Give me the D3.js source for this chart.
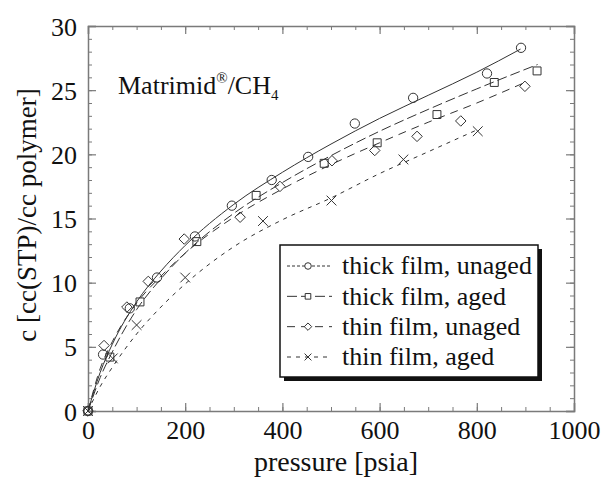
<!DOCTYPE html>
<html>
<head>
<meta charset="utf-8">
<script src="https://cdn.jsdelivr.net/npm/d3@7"></script>
<style>
  body { margin: 0; background: #fff; }
  svg text { font-family: "Liberation Serif", "Times New Roman", Times, "DejaVu Serif", serif; fill: #111; }
</style>
</head>
<body>
<div id="chart"></div>
<script>
// measured points, pressure [psia] / c [cc(STP)/cc polymer]
var thickUnagedP = [0, 31, 86, 142, 220, 296, 378, 453, 549, 669, 821, 891];
var thickUnagedC = [0, 4.4, 8.0, 10.4, 13.6, 16.0, 18.0, 19.8, 22.4, 24.4, 26.3, 28.3];
var thickAgedP = [0, 45, 107, 224, 346, 486, 595, 718, 836, 924];
var thickAgedC = [0, 4.2, 8.5, 13.2, 16.8, 19.3, 20.9, 23.1, 25.6, 26.5];
var thinUnagedP = [0, 33, 80, 124, 198, 313, 395, 502, 590, 677, 767, 899];
var thinUnagedC = [0, 5.1, 8.1, 10.1, 13.4, 15.1, 17.5, 19.5, 20.3, 21.4, 22.6, 25.3];
var thinAgedP = [0, 51, 100, 200, 360, 501, 649, 802];
var thinAgedC = [0, 4.1, 6.7, 10.4, 14.8, 16.4, 19.6, 21.8];

// fitted curves
var fitThickUnagedP = [0, 25, 50, 100, 150, 200, 300, 400, 500, 600, 700, 800, 890];
var fitThickUnagedC = [0, 3.0, 5.2, 8.5, 10.9, 12.9, 16.1, 18.6, 20.8, 22.8, 24.6, 26.4, 28.2];
var fitThickAgedP = [0, 25, 50, 100, 150, 200, 300, 400, 500, 600, 700, 800, 925];
var fitThickAgedC = [0, 2.6, 4.6, 7.9, 10.3, 12.3, 15.4, 17.8, 19.9, 21.8, 23.5, 25.1, 27.0];
var fitThinUnagedP = [0, 25, 50, 100, 150, 200, 300, 400, 500, 600, 700, 800, 905];
var fitThinUnagedC = [0, 3.3, 5.4, 8.4, 10.5, 12.3, 15.1, 17.3, 19.2, 20.9, 22.5, 24.0, 25.7];
var fitThinAgedP = [0, 25, 50, 100, 150, 200, 300, 400, 500, 600, 700, 800];
var fitThinAgedC = [0, 1.9, 3.4, 6.0, 8.1, 9.9, 12.8, 14.9, 16.6, 18.5, 20.2, 21.9];

var seriesNames = ["thick film, unaged", "thick film, aged", "thin film, unaged", "thin film, aged"];
var xMajor = [0, 200, 400, 600, 800, 1000];
var yMajor = [0, 5, 10, 15, 20, 25, 30];

var WIDTH = 605, HEIGHT = 478;
var LINE_COLOR = "#333";
var AXIS_COLOR = "#7a7a7a";
var FONT = "'Liberation Serif', 'Times New Roman', Times, serif";

var x = d3.scaleLinear().domain([0, 1000]).range([88, 574]);
var y = d3.scaleLinear().domain([0, 30]).range([411, 26]);

var svg = d3.select("#chart").append("svg")
    .attr("width", WIDTH)
    .attr("height", HEIGHT)
    .style("font-family", FONT);

function zip(a, b) {
  return a.map(function(v, i) { return [v, b[i]]; });
}

var series = [
  {name: seriesNames[0], pts: zip(thickUnagedP, thickUnagedC), fit: zip(fitThickUnagedP, fitThickUnagedC), sym: "circle", dash: null},
  {name: seriesNames[1], pts: zip(thickAgedP, thickAgedC), fit: zip(fitThickAgedP, fitThickAgedC), sym: "square", dash: "10,4"},
  {name: seriesNames[2], pts: zip(thinUnagedP, thinUnagedC), fit: zip(fitThinUnagedP, fitThinUnagedC), sym: "diamond", dash: "8,6"},
  {name: seriesNames[3], pts: zip(thinAgedP, thinAgedC), fit: zip(fitThinAgedP, fitThinAgedC), sym: "x", dash: "4,5"}
];

var symbolTypes = {
  circle: d3.symbolCircle,
  square: d3.symbolSquare2 || d3.symbolSquare,
  diamond: d3.symbolDiamond2 || d3.symbolDiamond,
  x: d3.symbolTimes || d3.symbolX
};
var symbolSizes = {circle: 68, square: 80, diamond: 70, x: 64};

// axes, ticks inward on all four sides
function drawAxis(axisFn, scale, major, minor, transform, labels) {
  svg.append("g")
      .attr("transform", transform)
      .call(axisFn(scale).tickValues(minor).tickSize(-4).tickFormat(""))
      .call(function(g) { g.select(".domain").remove(); })
      .selectAll("line").attr("stroke", AXIS_COLOR);
  var g = svg.append("g")
      .attr("transform", transform)
      .call(axisFn(scale).tickValues(major).tickSize(-8).tickPadding(14)
        .tickFormat(labels ? d3.format("d") : ""));
  g.attr("font-family", FONT);
  g.select(".domain").attr("stroke", AXIS_COLOR).attr("stroke-width", 1.5);
  g.selectAll("line").attr("stroke", AXIS_COLOR).attr("stroke-width", 1.2);
  g.selectAll("text")
      .style("font-size", "26px")
      .style("font-family", FONT)
      .attr("fill", "#111");
  return g;
}

var xMinor = d3.range(0, 1001, 50);
var yMinor = d3.range(0, 31, 1);

var bottom = drawAxis(d3.axisBottom, x, xMajor, xMinor, "translate(0,411)", true);
bottom.selectAll("text").attr("dy", "0.75em").attr("y", 8);
drawAxis(d3.axisTop, x, xMajor, xMinor, "translate(0,26)", false);
var left = drawAxis(d3.axisLeft, y, yMajor, yMinor, "translate(88,0)", true);
left.selectAll("text").attr("x", -11).attr("dy", "0.35em");
drawAxis(d3.axisRight, y, yMajor, yMinor, "translate(574,0)", false);

// fitted lines
var line = d3.line()
    .x(function(d) { return x(d[0]); })
    .y(function(d) { return y(d[1]); })
    .curve(d3.curveMonotoneX);

svg.append("g").selectAll("path")
    .data(series)
  .enter().append("path")
    .attr("d", function(d) { return line(d.fit); })
    .attr("fill", "none")
    .attr("stroke", LINE_COLOR)
    .attr("stroke-width", 1)
    .attr("stroke-dasharray", function(d) { return d.dash; });

// markers
series.forEach(function(s) {
  var sym = d3.symbol().type(symbolTypes[s.sym]).size(symbolSizes[s.sym]);
  svg.append("g").selectAll("path")
      .data(s.pts)
    .enter().append("path")
      .attr("transform", function(d) { return "translate(" + x(d[0]) + "," + y(d[1]) + ")"; })
      .attr("d", sym)
      .attr("fill", "none")
      .attr("stroke", LINE_COLOR)
      .attr("stroke-width", 1);
});

// title inside the plot
var title = svg.append("text")
    .attr("x", 118)
    .attr("y", 94)
    .style("font-size", "26px");
title.append("tspan").text("Matrimid");
title.append("tspan").text("®").style("font-size", "15px").attr("dy", -11);
title.append("tspan").text("/CH").style("font-size", "26px").attr("dy", 11);
title.append("tspan").text("4").style("font-size", "15px").attr("dy", 6);

// axis titles
svg.append("text")
    .attr("x", 336)
    .attr("y", 471)
    .attr("text-anchor", "middle")
    .style("font-size", "28px")
    .text("pressure [psia]");

svg.append("text")
    .attr("transform", "translate(36,215) rotate(-90)")
    .attr("text-anchor", "middle")
    .style("font-size", "27px")
    .text("c [cc(STP)/cc polymer]");

// legend
var legend = svg.append("g");
legend.append("rect")
    .attr("x", 284).attr("y", 249).attr("width", 258).attr("height", 132)
    .attr("fill", "#111");
legend.append("rect")
    .attr("x", 280).attr("y", 245).attr("width", 258).attr("height", 132)
    .attr("fill", "#fff").attr("stroke", "#111").attr("stroke-width", 1.5);

var rowY = d3.scalePoint().domain(seriesNames).range([266, 357]);

var rows = legend.selectAll(".row")
    .data(series)
  .enter().append("g")
    .attr("class", "row")
    .attr("transform", function(d) { return "translate(0," + rowY(d.name) + ")"; });

rows.append("line")
    .attr("x1", 287).attr("x2", 332)
    .attr("stroke", LINE_COLOR)
    .attr("stroke-width", 1)
    .attr("stroke-dasharray", function(d) { return d.dash ? d.dash : "3,2"; });

rows.append("path")
    .attr("transform", "translate(308,0)")
    .attr("d", function(d) { return d3.symbol().type(symbolTypes[d.sym]).size(symbolSizes[d.sym] * 0.5)(); })
    .attr("fill", "#fff")
    .attr("stroke", LINE_COLOR)
    .attr("stroke-width", 1);

rows.append("text")
    .attr("x", 342)
    .attr("dy", "0.32em")
    .style("font-size", "26px")
    .text(function(d) { return d.name; });
</script>
</body>
</html>
